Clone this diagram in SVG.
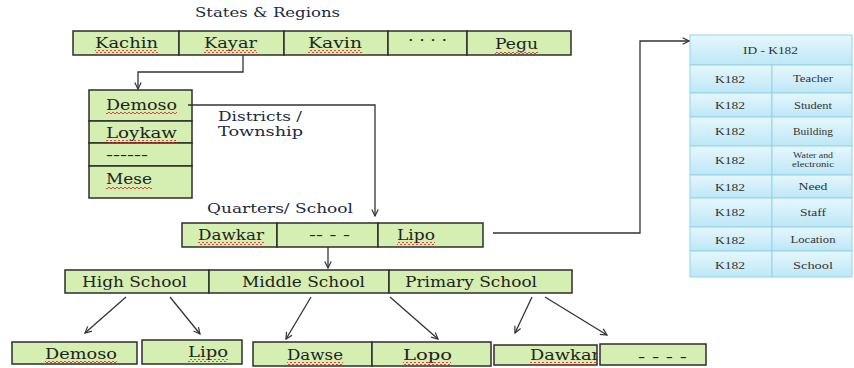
<svg xmlns="http://www.w3.org/2000/svg" width="854" height="368" viewBox="0 0 854 368">
<style>
.box{fill:#d4efb1;stroke:#2e2e2e;stroke-width:1.5}
.t{font-family:"DejaVu Serif","Liberation Serif",serif;font-size:14px;fill:#222}
.c{text-anchor:middle}
.lbl{font-family:"DejaVu Serif","Liberation Serif",serif;font-size:13px;fill:#1c2a40}
.cell{fill:url(#blue);stroke:#93d3ea;stroke-width:1}
.tt{font-family:"Liberation Serif","DejaVu Serif",serif;font-size:10.5px;fill:#333;text-anchor:middle}
.ts{font-family:"Liberation Serif","DejaVu Serif",serif;font-size:8px;fill:#333;text-anchor:middle}
.conn{fill:none;stroke:#333;stroke-width:1.3}
.wv{fill:url(#wave)}
</style>
<defs>
<marker id="arr" viewBox="0 0 10 10" refX="9" refY="5" markerWidth="8" markerHeight="8" orient="auto" markerUnits="userSpaceOnUse">
<path d="M1,1 L9,5 L1,9" fill="none" stroke="#333" stroke-width="1.5"/>
</marker>
<linearGradient id="blue" x1="0" y1="0" x2="0" y2="1">
<stop offset="0" stop-color="#e6f7fd"/>
<stop offset="1" stop-color="#bde7f6"/>
</linearGradient>
<pattern id="wave" width="4" height="3" patternUnits="userSpaceOnUse">
<path d="M0,2 Q1,0 2,2 T4,2" fill="none" stroke="#e02020" stroke-width="0.8"/>
</pattern>
<clipPath id="clipDawkar"><rect x="494" y="340" width="103" height="28"/></clipPath>
</defs>

<text class="lbl" x="195" y="17" textLength="145" lengthAdjust="spacingAndGlyphs">States &amp; Regions</text>
<text class="lbl" x="218" y="121" textLength="84" lengthAdjust="spacingAndGlyphs">Districts /</text>
<text class="lbl" x="218" y="136" textLength="85" lengthAdjust="spacingAndGlyphs">Township</text>
<text class="lbl" x="207" y="213" textLength="146" lengthAdjust="spacingAndGlyphs">Quarters/ School</text>

<g id="states">
<rect class="box" x="73" y="31" width="106" height="24"/>
<rect class="box" x="179" y="31" width="105" height="24"/>
<rect class="box" x="284" y="31" width="104" height="24"/>
<rect class="box" x="388" y="31" width="79" height="24"/>
<rect class="box" x="467" y="31" width="104" height="24"/>
<text class="t" x="95" y="48" textLength="63" lengthAdjust="spacingAndGlyphs">Kachin</text>
<text class="t" x="204" y="48" textLength="53" lengthAdjust="spacingAndGlyphs">Kayar</text>
<text class="t" x="308" y="48" textLength="54" lengthAdjust="spacingAndGlyphs">Kavin</text>
<text class="t" x="408" y="45" textLength="39" lengthAdjust="spacingAndGlyphs">· · · ·</text>
<text class="t" x="495" y="49" textLength="43" lengthAdjust="spacingAndGlyphs">Pegu</text>
<rect class="wv" x="95" y="50" width="63" height="3"/>
<rect class="wv" x="204" y="50" width="53" height="3"/>
<rect class="wv" x="308" y="50" width="54" height="3"/>
<rect class="wv" x="495" y="51" width="43" height="3"/>
</g>

<g id="districts">
<rect class="box" x="89" y="90" width="103" height="31"/>
<rect class="box" x="89" y="121" width="103" height="22"/>
<rect class="box" x="89" y="143" width="103" height="23"/>
<rect class="box" x="89" y="166" width="103" height="32"/>
<text class="t" x="106" y="110" textLength="71" lengthAdjust="spacingAndGlyphs">Demoso</text>
<text class="t" x="106" y="138" textLength="71" lengthAdjust="spacingAndGlyphs">Loykaw</text>
<text class="t" x="106" y="160" textLength="42" lengthAdjust="spacingAndGlyphs">------</text>
<text class="t" x="106" y="184" textLength="46" lengthAdjust="spacingAndGlyphs">Mese</text>
<rect class="wv" x="106" y="112" width="71" height="3"/>
<rect class="wv" x="106" y="140" width="71" height="3"/>
<rect class="wv" x="106" y="186" width="46" height="3"/>
</g>

<g id="quarters">
<rect class="box" x="182" y="223" width="95" height="24"/>
<rect class="box" x="277" y="223" width="101" height="24"/>
<rect class="box" x="378" y="223" width="105" height="24"/>
<text class="t" x="198" y="240" textLength="66" lengthAdjust="spacingAndGlyphs">Dawkar</text>
<text class="t" x="309" y="240" textLength="41" lengthAdjust="spacingAndGlyphs">-- - -</text>
<text class="t" x="397" y="240" textLength="38" lengthAdjust="spacingAndGlyphs">Lipo</text>
<rect class="wv" x="198" y="242" width="66" height="3"/>
<rect class="wv" x="397" y="242" width="38" height="3"/>
</g>

<g id="schools">
<rect class="box" x="65" y="270" width="144" height="23"/>
<rect class="box" x="209" y="270" width="180" height="23"/>
<rect class="box" x="389" y="270" width="183" height="23"/>
<text class="t" x="82" y="287" textLength="105" lengthAdjust="spacingAndGlyphs">High School</text>
<text class="t" x="242" y="287" textLength="123" lengthAdjust="spacingAndGlyphs">Middle School</text>
<text class="t" x="405" y="287" textLength="132" lengthAdjust="spacingAndGlyphs">Primary School</text>
</g>

<g id="bottom">
<rect class="box" x="12" y="342" width="125" height="22"/>
<rect class="box" x="142" y="340" width="100" height="24"/>
<rect class="box" x="253" y="342" width="119" height="24"/>
<rect class="box" x="372" y="342" width="119" height="24"/>
<rect class="box" x="494" y="345" width="103" height="20"/>
<rect class="box" x="600" y="344" width="106" height="21"/>
<text class="t" x="45" y="359" textLength="72" lengthAdjust="spacingAndGlyphs">Demoso</text>
<text class="t" x="188" y="357" textLength="40" lengthAdjust="spacingAndGlyphs">Lipo</text>
<text class="t" x="287" y="360" textLength="56" lengthAdjust="spacingAndGlyphs">Dawse</text>
<text class="t" x="403" y="360" textLength="49" lengthAdjust="spacingAndGlyphs">Lopo</text>
<g clip-path="url(#clipDawkar)">
<text class="t" x="530" y="360" textLength="70" lengthAdjust="spacingAndGlyphs">Dawkar</text>
<rect class="wv" x="530" y="362" width="66" height="3"/>
</g>
<text class="t" x="638" y="362" textLength="49" lengthAdjust="spacingAndGlyphs">- - - -</text>
<rect class="wv" x="45" y="361" width="72" height="3"/>
<rect class="wv" x="188" y="359" width="40" height="3"/>
<rect class="wv" x="287" y="362" width="56" height="3"/>
<rect class="wv" x="403" y="362" width="48" height="3"/>
</g>

<g id="table">
<rect class="cell" x="690" y="35" width="162" height="30"/>
<text class="tt" x="743" y="54" textLength="55" lengthAdjust="spacingAndGlyphs" style="text-anchor:start">ID - K182</text>
<rect class="cell" x="690" y="65" width="82" height="28"/><rect class="cell" x="772" y="65" width="80" height="28"/>
<rect class="cell" x="690" y="93" width="82" height="24"/><rect class="cell" x="772" y="93" width="80" height="24"/>
<rect class="cell" x="690" y="117" width="82" height="29"/><rect class="cell" x="772" y="117" width="80" height="29"/>
<rect class="cell" x="690" y="146" width="82" height="29"/><rect class="cell" x="772" y="146" width="80" height="29"/>
<rect class="cell" x="690" y="175" width="82" height="23"/><rect class="cell" x="772" y="175" width="80" height="23"/>
<rect class="cell" x="690" y="198" width="82" height="29"/><rect class="cell" x="772" y="198" width="80" height="29"/>
<rect class="cell" x="690" y="227" width="82" height="24"/><rect class="cell" x="772" y="227" width="80" height="24"/>
<rect class="cell" x="690" y="251" width="82" height="26"/><rect class="cell" x="772" y="251" width="80" height="26"/>
<text class="tt" x="730" y="83" textLength="30" lengthAdjust="spacingAndGlyphs">K182</text><text class="tt" x="813" y="82" textLength="40" lengthAdjust="spacingAndGlyphs">Teacher</text>
<text class="tt" x="730" y="109" textLength="30" lengthAdjust="spacingAndGlyphs">K182</text><text class="tt" x="813" y="109" textLength="38" lengthAdjust="spacingAndGlyphs">Student</text>
<text class="tt" x="730" y="135" textLength="30" lengthAdjust="spacingAndGlyphs">K182</text><text class="tt" x="813" y="135" textLength="40" lengthAdjust="spacingAndGlyphs">Building</text>
<text class="tt" x="730" y="164" textLength="30" lengthAdjust="spacingAndGlyphs">K182</text><text class="ts" x="813" y="158" textLength="40" lengthAdjust="spacingAndGlyphs">Water and</text><text class="ts" x="813" y="167" textLength="42" lengthAdjust="spacingAndGlyphs">electronic</text>
<text class="tt" x="730" y="191" textLength="30" lengthAdjust="spacingAndGlyphs">K182</text><text class="tt" x="813" y="190" textLength="29" lengthAdjust="spacingAndGlyphs">Need</text>
<text class="tt" x="730" y="216" textLength="30" lengthAdjust="spacingAndGlyphs">K182</text><text class="tt" x="813" y="216" textLength="26" lengthAdjust="spacingAndGlyphs">Staff</text>
<text class="tt" x="730" y="244" textLength="30" lengthAdjust="spacingAndGlyphs">K182</text><text class="tt" x="813" y="243" textLength="45" lengthAdjust="spacingAndGlyphs">Location</text>
<text class="tt" x="730" y="269" textLength="30" lengthAdjust="spacingAndGlyphs">K182</text><text class="tt" x="813" y="269" textLength="40" lengthAdjust="spacingAndGlyphs">School</text>
</g>

<g id="connectors">
<path class="conn" d="M243,55 V72 H138 V89" marker-end="url(#arr)"/>
<path class="conn" d="M188,105 H375 V216" marker-end="url(#arr)"/>
<path class="conn" d="M328,247 V268" marker-end="url(#arr)"/>
<path class="conn" d="M493,233 H640 V41 H689" marker-end="url(#arr)"/>
<path class="conn" d="M126,297 L85,333" marker-end="url(#arr)"/>
<path class="conn" d="M170,297 L200,334" marker-end="url(#arr)"/>
<path class="conn" d="M311,297 L286,339" marker-end="url(#arr)"/>
<path class="conn" d="M390,297 L438,339" marker-end="url(#arr)"/>
<path class="conn" d="M532,297 L515,333" marker-end="url(#arr)"/>
<path class="conn" d="M545,297 L607,335" marker-end="url(#arr)"/>
</g>
</svg>
